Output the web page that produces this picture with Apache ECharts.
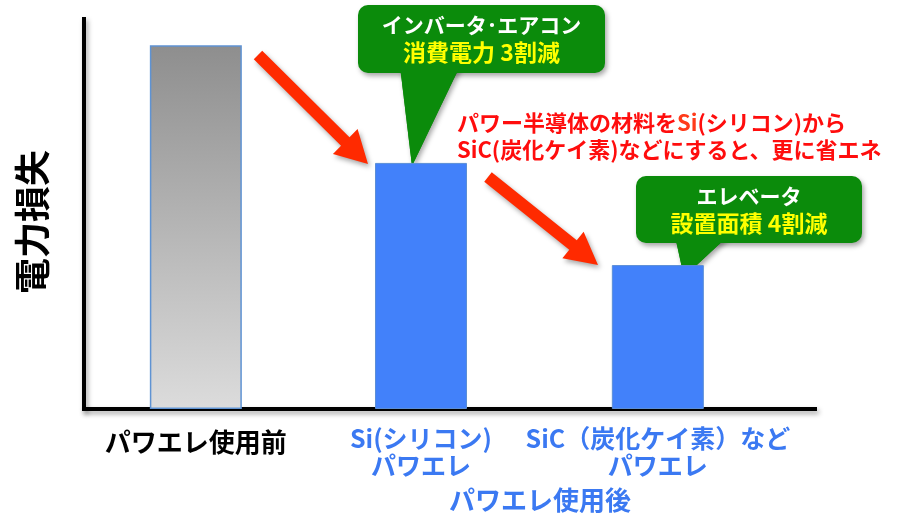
<!DOCTYPE html>
<html>
<head>
<meta charset="utf-8">
<script src="https://cdn.jsdelivr.net/npm/echarts@6/dist/echarts.min.js"></script>
<style>
  html, body { margin: 0; padding: 0; background: #fff; }
  #chart { width: 905px; height: 513px; }
</style>
</head>
<body>
<div id="chart"></div>
<script>
// bar positions on the x value axis (0-100) and loss values (0-100)
const categories = ['パワエレ使用前', 'Si(シリコン)\nパワエレ', 'SiC（炭化ケイ素）など\nパワエレ'];
const positions = [15.3, 46.1, 78.5];
const losses = [93.3, 63.1, 36.9];

const FONT = '"Noto Sans CJK JP", "Noto Sans", sans-serif';
const GREEN = '#0b8b0b';
const RED = '#ff2a00';
const BLUE = '#4281fa';
const BLUE_TEXT = '#3b79f2';

// arrow outline from start point to tip
function arrowPoints(x1, y1, x2, y2, shaft, headLen, headW) {
  const dx = x2 - x1, dy = y2 - y1;
  const len = Math.sqrt(dx * dx + dy * dy);
  const ux = dx / len, uy = dy / len;
  const px = -uy, py = ux;
  const bx = x2 - ux * headLen, by = y2 - uy * headLen;
  const s = shaft / 2, h = headW / 2;
  return [
    [x1 + px * s, y1 + py * s],
    [bx + px * s, by + py * s],
    [bx + px * h, by + py * h],
    [x2, y2],
    [bx - px * h, by - py * h],
    [bx - px * s, by - py * s],
    [x1 - px * s, y1 - py * s]
  ];
}

const shadow = { shadowColor: 'rgba(0,0,0,0.35)', shadowBlur: 5, shadowOffsetX: 2, shadowOffsetY: 3 };

function bubble(x, y, w, h, tail, line1, line2) {
  return {
    type: 'group',
    children: [
      { type: 'polygon', shape: { points: tail }, style: Object.assign({ fill: GREEN }, shadow) },
      { type: 'rect', shape: { x: x, y: y, width: w, height: h, r: 10 }, style: Object.assign({ fill: GREEN }, shadow) },
      { type: 'polygon', shape: { points: tail }, style: { fill: GREEN } },
      {
        type: 'text', x: x + w / 2, y: y + h / 2,
        style: {
          text: '{a|' + line1 + '}\n{b|' + line2 + '}',
          align: 'center', verticalAlign: 'middle',
          rich: {
            a: { fill: '#ffffff', fontSize: 21, fontWeight: 'bold', fontFamily: FONT, lineHeight: 27 },
            b: { fill: '#ffff00', fontSize: 23, fontWeight: 'bold', fontFamily: FONT, lineHeight: 27 }
          }
        }
      }
    ]
  };
}

const chart = echarts.init(document.getElementById('chart'));

const option = {
  backgroundColor: '#ffffff',
  animation: false,
  grid: { left: 84, right: 90, top: 19, bottom: 104 },
  xAxis: {
    type: 'value',
    min: 0,
    max: 100,
    splitLine: { show: false },
    axisTick: { show: false },
    axisLine: {
      show: true,
      lineStyle: Object.assign({ color: '#000', width: 4, cap: 'square' }, shadow)
    },
    axisLabel: {
      customValues: positions,
      margin: 16,
      verticalAlign: 'top',
      formatter: function (v) {
        const i = positions.indexOf(v);
        if (i < 0) return '';
        const style = i === 0 ? 'k' : 'b';
        return categories[i].split('\n').map(s => '{' + style + '|' + s + '}').join('\n');
      },
      rich: {
        k: { color: '#000', fontSize: 26, fontWeight: 'bold', fontFamily: FONT, lineHeight: 28, padding: [6, 0, 0, 0] },
        b: { color: BLUE_TEXT, fontSize: 25, fontWeight: 'bold', fontFamily: FONT, lineHeight: 27 }
      }
    }
  },
  yAxis: {
    type: 'value',
    min: 0,
    max: 100,
    name: '電力損失',
    nameLocation: 'middle',
    nameRotate: 90,
    nameGap: 34,
    nameTextStyle: { color: '#000', fontSize: 36, fontWeight: 'bold', fontFamily: FONT, padding: [0, 16, 0, 0] },
    splitLine: { show: false },
    axisTick: { show: false },
    axisLabel: { show: false },
    axisLine: {
      show: true,
      lineStyle: Object.assign({ color: '#000', width: 4, cap: 'square' }, shadow)
    }
  },
  series: [{
    type: 'bar',
    barWidth: 92,
    data: positions.map((x, i) => {
      const item = { value: [x, losses[i]] };
      if (i === 0) {
        item.itemStyle = {
          color: new echarts.graphic.LinearGradient(0, 0, 0, 1, [
            { offset: 0, color: '#8e8e8e' },
            { offset: 1, color: '#dcdcdc' }
          ]),
          borderColor: '#5f93d3',
          borderWidth: 1.5
        };
      }
      return item;
    }),
    itemStyle: { color: BLUE, borderColor: '#5b8ed6', borderWidth: 1 }
  }],
  graphic: [
    { type: 'polygon', shape: { points: arrowPoints(258, 55, 368, 164, 12, 32, 35) }, style: Object.assign({ fill: RED }, shadow) },
    { type: 'polygon', shape: { points: arrowPoints(488, 177, 598, 265, 12, 32, 34) }, style: Object.assign({ fill: RED }, shadow) },
    bubble(358, 5, 247, 68, [[400, 66], [460, 66], [412, 166]], 'インバータ･エアコン', '消費電力 3割減'),
    bubble(636, 176, 226, 67, [[675, 236], [728, 236], [684, 277]], 'エレベータ', '設置面積 4割減'),
    {
      type: 'text', x: 457, y: 109,
      style: {
        text: '{r|パワー半導体の材料を}{o|Si}{r|(シリコン)から}\n{r|SiC(炭化ケイ素)などにすると、更に省エネ}',
        rich: {
          r: { fill: '#ff0d0d', fontSize: 22, fontWeight: 'bold', fontFamily: FONT, lineHeight: 27 },
          o: { fill: '#ff3b1a', fontSize: 22, fontWeight: 'bold', fontFamily: FONT, lineHeight: 27 }
        }
      }
    },
    {
      type: 'text', x: 540, y: 500,
      style: {
        text: 'パワエレ使用後',
        fill: BLUE_TEXT, fontSize: 26, fontWeight: 'bold', fontFamily: FONT,
        align: 'center', verticalAlign: 'middle'
      }
    }
  ]
};

chart.setOption(option);
</script>
</body>
</html>
